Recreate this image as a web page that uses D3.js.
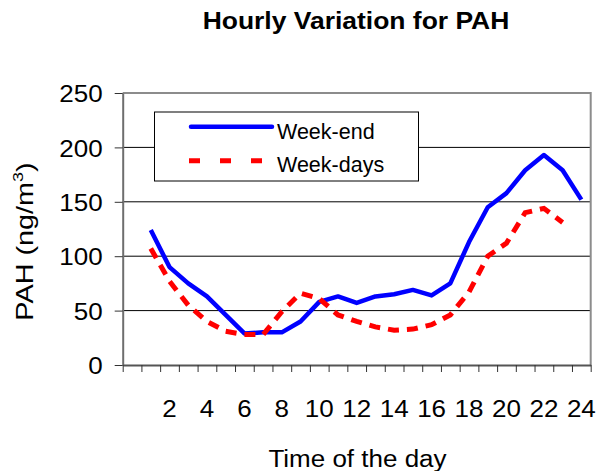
<!DOCTYPE html>
<html>
<head>
<meta charset="utf-8">
<script src="https://cdn.jsdelivr.net/npm/d3@7"></script>
<style>
  body { margin: 0; background: #fff; }
  svg { display: block; font-family: Arial, "Liberation Sans", sans-serif; }
</style>
</head>
<body>
<div class="chart"></div>
<script>
// hours of the day (category 0 is an empty slot, as in the original sheet)
const hours = [1, 2, 3, 4, 5, 6, 7, 8, 9, 10, 11, 12, 13, 14, 15, 16, 17, 18, 19, 20, 21, 22, 23, 24];
const weekEnd  = [124, 90, 75, 63, 46, 29, 30, 30, 40, 58, 63, 57, 63, 65, 69, 64, 75, 113, 145, 158, 179, 193, 179, 152];
const weekDays = [107, 77, 55, 40, 31, 28, 28, 49, 66, 61, 46, 40, 35, 32, 33, 37, 46, 67, 100, 112, 140, 144, 131, null];
const hourLabels = [2, 4, 6, 8, 10, 12, 14, 16, 18, 20, 22, 24];
const yTicks = [0, 50, 100, 150, 200, 250];
const seriesNames = ['Week-end', 'Week-days'];

const svgSize = { width: 597, height: 471 };
const plot = { left: 122.7, right: 590.7, top: 93, bottom: 365 };

const svg = d3.select('.chart')
    .append('svg')
    .attr('width', svgSize.width)
    .attr('height', svgSize.height);

const x = d3.scaleBand()
    .domain([0, ...hours])
    .range([plot.left, plot.right])
    .paddingInner(0)
    .paddingOuter(0);

const xEdges = d3.scaleLinear()
    .domain([0, hours.length + 1])
    .range([plot.left, plot.right]);

const y = d3.scaleLinear()
    .domain([0, 250])
    .range([plot.bottom, plot.top]);

const xc = h => x(h) + x.bandwidth() / 2;

// stretch text along its reading direction (the source renders wide glyphs)
const stretch = (sel, k) => sel.each(function () {
    const w = this.getComputedTextLength();
    d3.select(this).attr('textLength', w * k).attr('lengthAdjust', 'spacingAndGlyphs');
});

// gridlines
svg.append('g')
    .selectAll('line')
    .data(yTicks.filter(v => v > 0 && v < 250))
    .join('line')
    .attr('x1', plot.left).attr('x2', plot.right)
    .attr('y1', d => y(d)).attr('y2', d => y(d))
    .attr('stroke', '#000')
    .attr('stroke-width', 1);

// plot frame (top + right, grey)
svg.append('path')
    .attr('d', `M${plot.left},${y(250)}H${plot.right}V${plot.bottom}`)
    .attr('fill', 'none')
    .attr('stroke', '#8c8c8c')
    .attr('stroke-width', 2);

// y axis
const yAxis = svg.append('g')
    .attr('transform', `translate(${plot.left},0)`)
    .call(d3.axisLeft(y).tickValues(yTicks).tickSize(8).tickPadding(12).tickSizeOuter(0));
yAxis.select('.domain').attr('stroke', '#6e6e6e').attr('stroke-width', 2);
yAxis.selectAll('.tick line').attr('stroke', '#333');
yAxis.selectAll('text')
    .attr('font-size', 23)
    .attr('fill', '#000')
    .attr('dy', '0.38em')
    .call(stretch, 1.13);

// x axis: tick marks on category edges
const xAxis = svg.append('g')
    .attr('transform', `translate(0,${plot.bottom})`)
    .call(d3.axisBottom(xEdges).tickValues(d3.range(hours.length + 2)).tickSize(7).tickFormat('').tickSizeOuter(0));
xAxis.select('.domain').attr('stroke', '#555').attr('stroke-width', 2);
xAxis.selectAll('.tick line').attr('stroke', '#333');

// x axis: labels at category centres
const xLab = svg.append('g')
    .attr('transform', `translate(0,${plot.bottom})`)
    .call(d3.axisBottom(x).tickValues(hourLabels).tickSize(0));
xLab.select('.domain').remove();
xLab.selectAll('text')
    .attr('font-size', 23)
    .attr('fill', '#000')
    .attr('y', 52)
    .attr('dy', null)
    .call(stretch, 1.13);

// lines
const line = d3.line()
    .defined(d => d[1] != null)
    .x(d => xc(d[0]))
    .y(d => y(d[1]));

svg.append('path')
    .datum(hours.map((h, i) => [h, weekEnd[i]]))
    .attr('d', line)
    .attr('fill', 'none')
    .attr('stroke', '#0000ff')
    .attr('stroke-width', 4.5)
    .attr('stroke-linejoin', 'round');

svg.append('path')
    .datum(hours.map((h, i) => [h, weekDays[i]]))
    .attr('d', line)
    .attr('fill', 'none')
    .attr('stroke', '#ff0000')
    .attr('stroke-width', 5)
    .attr('stroke-dasharray', '11,8');

// legend
const legend = svg.append('g');
legend.append('rect')
    .attr('x', 154.5).attr('y', 112)
    .attr('width', 264).attr('height', 69)
    .attr('fill', '#fff')
    .attr('stroke', '#000')
    .attr('stroke-width', 1);

legend.append('line')
    .attr('x1', 191).attr('x2', 272)
    .attr('y1', 126.7).attr('y2', 126.7)
    .attr('stroke', '#0000ff')
    .attr('stroke-width', 4.5)
    .attr('stroke-linecap', 'round');

legend.append('line')
    .attr('x1', 189).attr('x2', 263)
    .attr('y1', 160.7).attr('y2', 160.7)
    .attr('stroke', '#ff0000')
    .attr('stroke-width', 5)
    .attr('stroke-dasharray', '11,20');

legend.selectAll('text')
    .data(seriesNames)
    .join('text')
    .attr('x', 277)
    .attr('y', (d, i) => i === 0 ? 139.3 : 172.3)
    .attr('font-size', 21.5)
    .text(d => d);

// title
svg.append('text')
    .attr('x', 356).attr('y', 29)
    .attr('text-anchor', 'middle')
    .attr('font-size', 23)
    .attr('font-weight', 'bold')
    .text('Hourly Variation for PAH')
    .call(stretch, 1.15);

// axis titles
svg.append('text')
    .attr('x', 357.5).attr('y', 466.5)
    .attr('text-anchor', 'middle')
    .attr('font-size', 23)
    .text('Time of the day')
    .call(stretch, 1.13);

const yTitle = svg.append('text')
    .attr('transform', 'translate(33.3,241.5) rotate(-90)')
    .attr('text-anchor', 'middle')
    .attr('font-size', 24);
yTitle.append('tspan').text('PAH (ng/m');
yTitle.append('tspan').attr('font-size', 15).attr('dy', -10).text('3');
yTitle.append('tspan').attr('dy', 10).text(')');
yTitle.call(stretch, 1.2);
</script>
</body>
</html>
